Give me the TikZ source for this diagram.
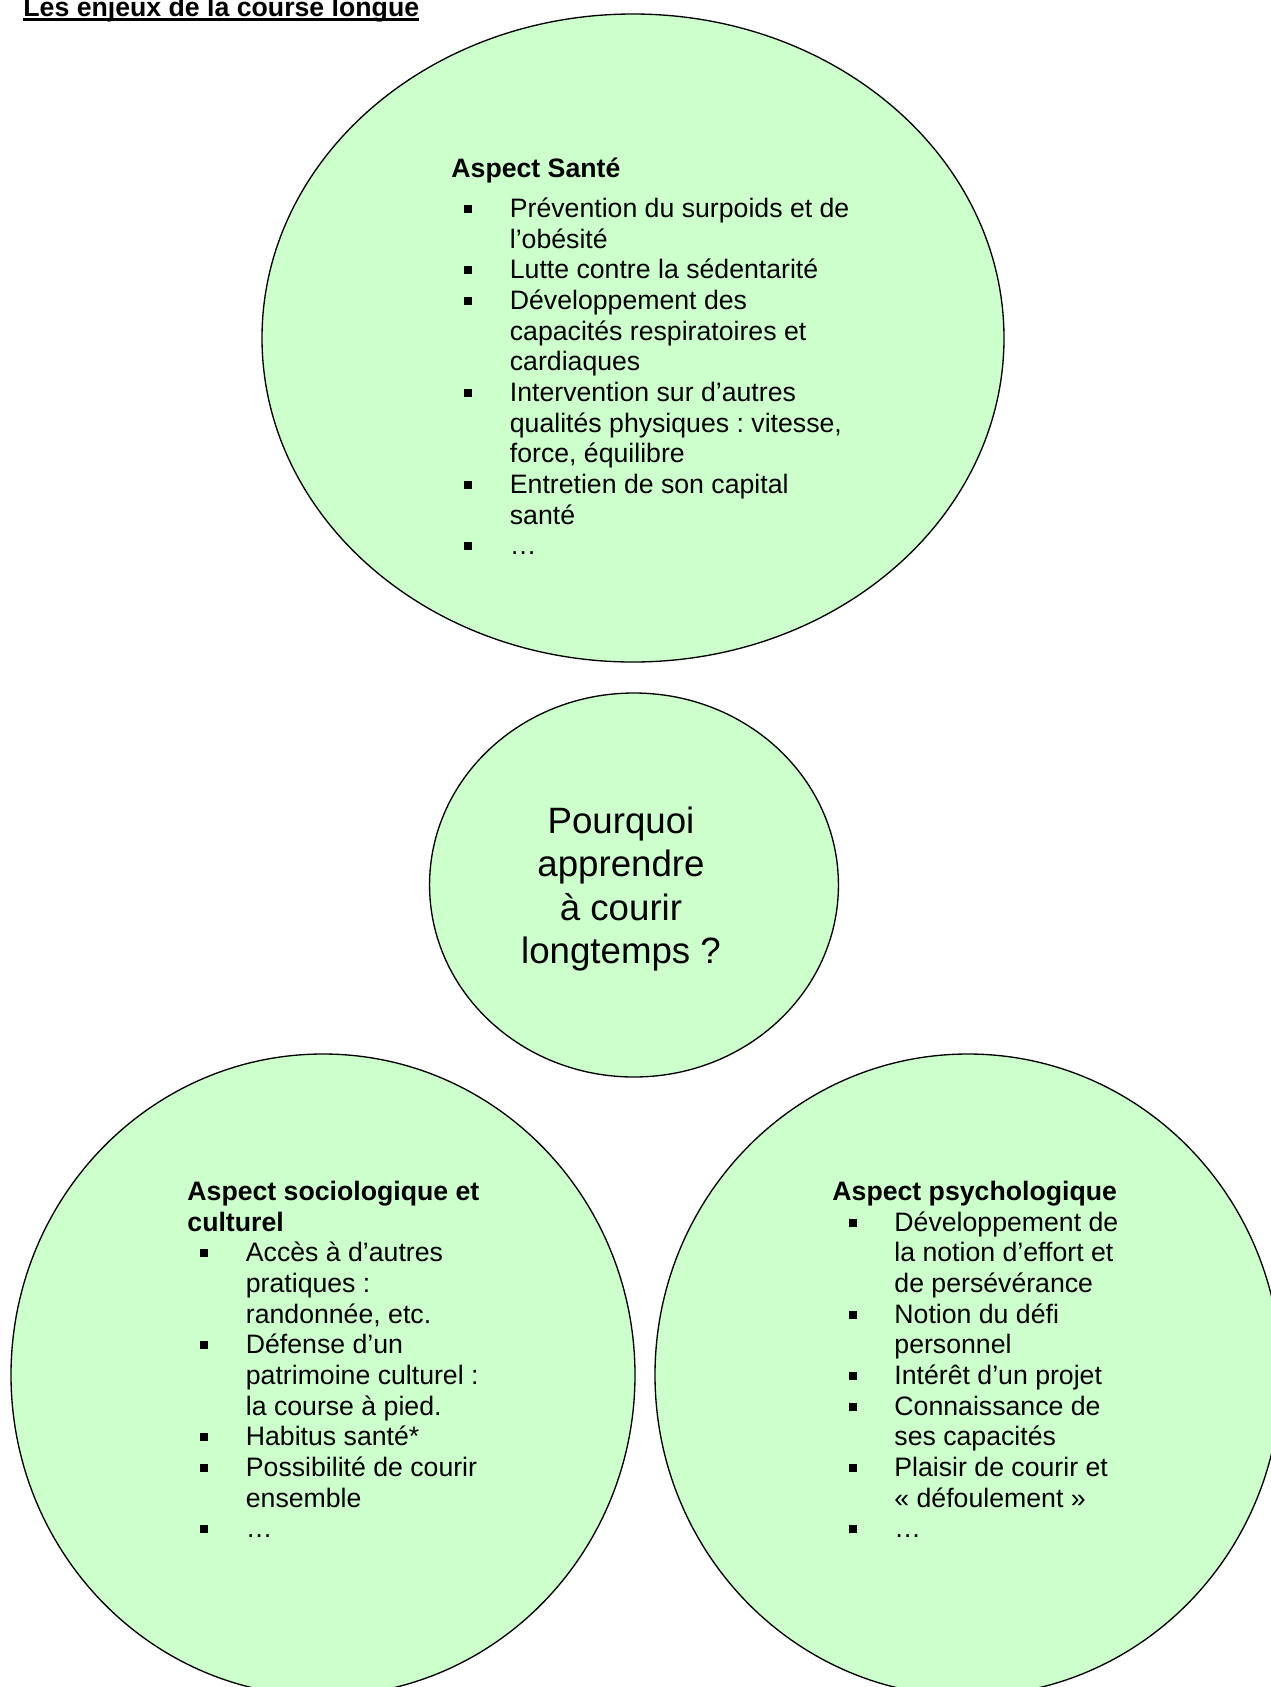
\documentclass[tikz,border=0pt]{standalone}
\usepackage{fontspec}
\setmainfont{Liberation Sans}
\usetikzlibrary{shapes.geometric}
\frenchspacing
\definecolor{vertpale}{RGB}{204,255,204}
\newlength\retrait \setlength\retrait{5.6pt}
\newlength\alinea \setlength\alinea{26.3pt}
\newcommand\corps{\fontsize{12pt}{13.8pt}\selectfont}
\newcommand\puce{\makebox[\alinea][l]{\hspace*{\retrait}\rule[2pt]{3.6pt}{3.6pt}}}
\newcommand\suite{\hspace*{\alinea}}
\newcommand\haut{\rule{0pt}{11pt}}
\newcommand\souligne[1]{\setbox0\hbox{#1}\rlap{\rule[-2.2pt]{\wd0}{1.2pt}}\box0}
\tikzset{
  bulle/.style={ellipse,draw=black,line width=0.6pt,fill=vertpale,inner sep=0pt},
  bloc/.style={anchor=north west,yshift=11pt,inner sep=0pt,align=left,font=\corps},
}
\begin{document}
\begin{tikzpicture}[x=0.45pt,y=-0.45pt]
  \useasboundingbox (0,0) rectangle (1271,1687);
  % titre
  \node[anchor=base west,inner sep=0pt,font=\corps\bfseries] (titre) at (23,16) {\souligne{Les enjeux de la course longue}};
  % les bulles
  \node[bulle,minimum width=333.9pt,minimum height=291.6pt] (sante) at (633,338) {};
  \node[bulle,minimum width=184pt,minimum height=172.8pt] (question) at (634,885) {};
  \node[bulle,minimum width=280.8pt,minimum height=288.9pt] (socio) at (323,1375) {};
  \node[bulle,minimum width=281.7pt,minimum height=288.9pt] (psycho) at (968,1375) {};
  % textes des bulles
  \node[align=center,inner sep=0pt,font=\fontsize{16.5pt}{19.4pt}\selectfont] (txtquestion) at (621,889)
    {Pourquoi\\apprendre\\à courir\\longtemps ?};
  \node[bloc] (txtsante) at (451,177) {{\bfseries\haut Aspect Santé}\\[4.2pt]
    \puce Prévention du surpoids et de\\
    \suite l’obésité\\
    \puce Lutte contre la sédentarité\\
    \puce Développement des\\
    \suite capacités respiratoires et\\
    \suite cardiaques\\
    \puce Intervention sur d’autres\\
    \suite qualités physiques : vitesse,\\
    \suite force, équilibre\\
    \puce Entretien de son capital\\
    \suite santé\\
    \puce …};
  \node[bloc] (txtsocio) at (187,1200) {{\bfseries\haut Aspect sociologique et}\\
    {\bfseries culturel}\\
    \puce Accès à d’autres\\
    \suite pratiques :\\
    \suite randonnée, etc.\\
    \puce Défense d’un\\
    \suite patrimoine culturel :\\
    \suite la course à pied.\\
    \puce Habitus santé*\\
    \puce Possibilité de courir\\
    \suite ensemble\\
    \puce …};
  \node[bloc,font={\corps\setlength\retrait{7.6pt}\setlength\alinea{27.9pt}}] (txtpsycho) at (832,1200) {{\bfseries\haut Aspect psychologique}\\
    \puce Développement de\\
    \suite la notion d’effort et\\
    \suite de persévérance\\
    \puce Notion du défi\\
    \suite personnel\\
    \puce Intérêt d’un projet\\
    \puce Connaissance de\\
    \suite ses capacités\\
    \puce Plaisir de courir et\\
    \suite « défoulement »\\
    \puce …};
\end{tikzpicture}
\end{document}
